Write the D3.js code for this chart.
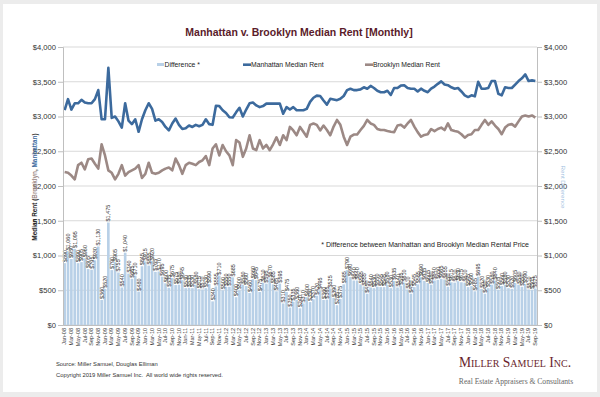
<!DOCTYPE html>
<html>
<head>
<meta charset="utf-8">
<script src="https://cdn.jsdelivr.net/npm/d3@7/dist/d3.min.js"></script>
<style>
body { margin: 0; background: #ececec; }
svg { display: block; font-family: Arial, "Liberation Sans", sans-serif; }
</style>
</head>
<body>
<svg id="chart" width="600" height="397"></svg>
<script>
var width = 600, height = 397;

// categories: Jan-08 .. Sep-19
var monthNames = ["Jan", "Feb", "Mar", "Apr", "May", "Jun", "Jul", "Aug", "Sep", "Oct", "Nov", "Dec"];
var years = ["08", "09", "10", "11", "12", "13", "14", "15", "16", "17", "18", "19"];
var months = [];
years.forEach(function(y, yi) {
    monthNames.forEach(function(m, mi) {
        if (yi == years.length - 1 && mi > 8) return;
        months.push(m + "-" + y);
    });
});

var manhattan = [
    3090, 3250, 3100, 3190, 3190, 3240, 3200, 3190, 3190, 3250, 3380, 2960,
    2960, 3700, 2980, 3000, 2930, 2840, 3190, 2940, 2890, 2960, 2780, 2960,
    3090, 3190, 3110, 2940, 2960, 2920, 2850, 2800, 2900, 2970, 2880, 2820,
    2830, 2870, 2850, 2880, 2860, 2880, 2960, 2890, 2880, 3155, 3150, 3090,
    3050, 2990, 2985, 3060, 3125, 3000, 3100, 3190, 3200, 3160, 3135, 3150,
    3185, 3185, 3185, 3185, 3185, 3040, 3135, 3100, 3135, 3090, 3090, 3090,
    3110, 3210, 3270, 3300, 3295, 3230, 3170, 3255, 3245, 3235, 3255, 3295,
    3380, 3400, 3380, 3380, 3390, 3420, 3400, 3440, 3410, 3370, 3350, 3350,
    3370, 3310, 3410, 3410, 3445, 3450, 3410, 3400, 3400, 3360, 3400, 3370,
    3350, 3400, 3430, 3470, 3505, 3460, 3450, 3420, 3400, 3410, 3360, 3305,
    3280, 3305, 3290, 3500, 3400, 3400, 3410, 3510, 3510, 3325, 3305, 3420,
    3410, 3410, 3460, 3510, 3550, 3605, 3510, 3520, 3510
];

var brooklyn = [
    2200, 2190, 2150, 2095, 2300, 2335, 2240, 2385, 2395, 2320, 2250, 2600,
    2440, 2225, 2190, 2095, 2175, 2300, 2150, 2200, 2225, 2250, 2300, 2115,
    2175, 2335, 2190, 2175, 2190, 2225, 2250, 2265, 2225, 2395, 2300, 2175,
    2300, 2335, 2320, 2300, 2345, 2370, 2430, 2300, 2540, 2600, 2440, 2590,
    2500, 2440, 2300, 2660, 2625, 2420, 2540, 2730, 2540, 2515, 2660, 2540,
    2590, 2515, 2600, 2700, 2590, 2730, 2660, 2850, 2800, 2730, 2850, 2780,
    2710, 2880, 2900, 2880, 2800, 2870, 2805, 2730, 2855, 2950, 2880, 2710,
    2590, 2710, 2740, 2740, 2805, 2865, 2950, 2900, 2880, 2820, 2805, 2805,
    2790, 2780, 2775, 2870, 2880, 2840, 2900, 2950, 2855, 2775, 2710, 2735,
    2745, 2820, 2790, 2820, 2840, 2805, 2900, 2805, 2790, 2780, 2745, 2695,
    2735, 2745, 2805, 2805, 2880, 2950, 2880, 2930, 2870, 2820, 2745, 2840,
    2880, 2890, 2855, 2930, 3000, 3015, 3000, 3015, 2985
];

// bar heights (Manhattan minus Brooklyn)
var difference = [
    890, 1060, 950, 1095, 890, 905, 960, 805, 795, 930, 1130, 360,
    520, 1475, 790, 905, 755, 540, 1040, 740, 665, 710, 480, 845,
    915, 855, 920, 765, 770, 695, 600, 535, 675, 575, 580, 645,
    530, 535, 530, 580, 515, 510, 530, 590, 340, 555, 710, 500,
    550, 550, 685, 400, 500, 580, 560, 460, 660, 645, 475, 610,
    595, 670, 585, 485, 595, 310, 475, 250, 335, 360, 240, 310,
    400, 330, 370, 420, 495, 360, 365, 525, 390, 285, 375, 585,
    790, 690, 640, 640, 585, 555, 450, 540, 530, 550, 545, 545,
    580, 530, 635, 540, 565, 610, 510, 450, 545, 585, 690, 635,
    605, 580, 640, 650, 665, 655, 550, 615, 610, 630, 615, 610,
    545, 560, 485, 695, 520, 450, 530, 580, 640, 505, 560, 580,
    530, 520, 605, 580, 550, 590, 510, 505, 525
];

var yTicks = [0, 500, 1000, 1500, 2000, 2500, 3000, 3500, 4000];

var colors = {
    bar: "#b8d0e7",
    manhattan: "#3c6a9d",
    brooklyn: "#9c8985",
    title: "#5a1b2a",
    grid: "#d9d9d9"
};

var svg = d3.select("#chart");

// white card
svg.append("rect")
    .attr("x", 3).attr("y", 4)
    .attr("width", 594).attr("height", 388)
    .attr("fill", "#fff");

var plot = { left: 63, right: 537, top: 47, bottom: 325 };

var x = d3.scaleBand()
    .domain(months)
    .range([plot.left, plot.right])
    .paddingInner(0.22)
    .paddingOuter(0.1);

var y = d3.scaleLinear()
    .domain([0, 4000])
    .range([plot.bottom, plot.top]);

// gridlines
svg.append("g").selectAll("line")
    .data(yTicks)
    .enter().append("line")
    .attr("x1", plot.left).attr("x2", plot.right)
    .attr("y1", d => y(d)).attr("y2", d => y(d))
    .attr("stroke", colors.grid)
    .attr("stroke-width", 1);

// bars
svg.append("g").selectAll("rect")
    .data(difference)
    .enter().append("rect")
    .attr("x", (d, i) => x(months[i]))
    .attr("width", x.bandwidth())
    .attr("y", d => y(d))
    .attr("height", d => y(0) - y(d))
    .attr("fill", colors.bar);

// bar value labels
var fmt = d3.format("$,");
svg.append("g").selectAll("text")
    .data(difference)
    .enter().append("text")
    .attr("transform", (d, i) => "translate(" + (x(months[i]) + x.bandwidth() / 2 + 2) + "," + (y(d) - 1) + ") rotate(-90)")
    .attr("font-size", 5.5)
    .attr("fill", "#333")
    .text(d => fmt(d));

// lines
function drawLine(values, color) {
    var line = d3.line()
        .x((d, i) => x(months[i]) + x.bandwidth() / 2)
        .y(d => y(d));
    svg.append("path")
        .datum(values)
        .attr("d", line)
        .attr("fill", "none")
        .attr("stroke", color)
        .attr("stroke-width", 2.6)
        .attr("stroke-linejoin", "round");
}
drawLine(brooklyn, colors.brooklyn);
drawLine(manhattan, colors.manhattan);

// axes
var dollar = d3.format("$,");
var leftAxis = svg.append("g")
    .attr("transform", "translate(" + plot.left + ",0)")
    .call(d3.axisLeft(y).tickValues(yTicks).tickFormat(dollar).tickSize(5).tickPadding(2));
var rightAxis = svg.append("g")
    .attr("transform", "translate(" + plot.right + ",0)")
    .call(d3.axisRight(y).tickValues(yTicks).tickFormat(dollar).tickSize(5).tickPadding(2));
[leftAxis, rightAxis].forEach(function(a) {
    a.select(".domain").attr("stroke", "#bfbfbf");
    a.selectAll(".tick line").attr("stroke", "#bfbfbf");
    a.selectAll("text").attr("font-size", 7.6).attr("fill", "#333").attr("font-family", "Arial, 'Liberation Sans', sans-serif");
});

var bottomAxis = svg.append("g")
    .attr("transform", "translate(0," + plot.bottom + ")")
    .call(d3.axisBottom(x).tickValues(months.filter((m, i) => i % 2 == 0)).tickSize(0).tickPadding(3));
bottomAxis.select(".domain").attr("stroke", "#bfbfbf");
bottomAxis.selectAll("text")
    .attr("font-size", 5.5)
    .attr("fill", "#333")
    .attr("font-family", "Arial, 'Liberation Sans', sans-serif")
    .attr("text-anchor", "end")
    .attr("transform", "rotate(-90)")
    .attr("x", 0).attr("y", 0)
    .attr("dx", -3).attr("dy", "0.32em");

// title
svg.append("text")
    .attr("x", 299).attr("y", 36)
    .attr("text-anchor", "middle")
    .attr("font-size", 10.5)
    .attr("font-weight", "bold")
    .attr("fill", colors.title)
    .text("Manhattan v. Brooklyn Median Rent [Monthly]");

// legend
var legend = svg.append("g").attr("font-size", 6.8).attr("fill", "#222");
legend.append("rect").attr("x", 157).attr("y", 63).attr("width", 7).attr("height", 3).attr("fill", colors.bar);
legend.append("text").attr("x", 164.5).attr("y", 67.3).text("Difference *");
legend.append("line").attr("x1", 243).attr("x2", 251).attr("y1", 64.7).attr("y2", 64.7)
    .attr("stroke", colors.manhattan).attr("stroke-width", 2.6);
legend.append("text").attr("x", 251).attr("y", 67.3).text("Manhattan Median Rent");
legend.append("line").attr("x1", 365).attr("x2", 373).attr("y1", 64.7).attr("y2", 64.7)
    .attr("stroke", colors.brooklyn).attr("stroke-width", 2.6);
legend.append("text").attr("x", 373).attr("y", 67.3).text("Brooklyn Median Rent");

// note
svg.append("text")
    .attr("x", 529).attr("y", 247)
    .attr("text-anchor", "end")
    .attr("font-size", 7)
    .attr("fill", "#222")
    .text("* Difference between Manhattan and Brooklyn Median Rental Price");

// axis titles
var yTitle = svg.append("text")
    .attr("transform", "translate(37,187) rotate(-90)")
    .attr("text-anchor", "middle")
    .attr("font-size", 6.4)
    .attr("font-weight", "bold")
    .attr("fill", "#222");
yTitle.append("tspan").text("Median Rent (");
yTitle.append("tspan").attr("fill", colors.brooklyn).text("Brooklyn");
yTitle.append("tspan").text(", ");
yTitle.append("tspan").attr("fill", colors.manhattan).text("Manhattan");
yTitle.append("tspan").text(")");

svg.append("text")
    .attr("transform", "translate(561,187) rotate(90)")
    .attr("text-anchor", "middle")
    .attr("font-size", 6.2)
    .attr("fill", "#9dc0e0")
    .text("Rent Difference");

// footer
var foot = svg.append("g").attr("font-size", 5.8).attr("fill", "#333");
foot.append("text").attr("x", 56).attr("y", 366).text("Source: Miller Samuel, Douglas Elliman");
foot.append("text").attr("x", 56).attr("y", 377).text("Copyright 2019 Miller Samuel Inc.  All world wide rights reserved.")
    .style("white-space", "pre");

// logo
svg.append("text")
    .attr("x", 515).attr("y", 367)
    .attr("text-anchor", "middle")
    .attr("font-family", "'Liberation Serif', 'DejaVu Serif', serif")
    .attr("font-size", 13.6)
    .attr("fill", "#6a1f2d")
    .style("font-variant", "small-caps")
    .text("Miller Samuel Inc.");
svg.append("text")
    .attr("x", 516).attr("y", 384)
    .attr("text-anchor", "middle")
    .attr("font-family", "'Liberation Serif', 'DejaVu Serif', serif")
    .attr("font-size", 7.6)
    .attr("fill", "#666")
    .text("Real Estate Appraisers & Consultants");
</script>
</body>
</html>
